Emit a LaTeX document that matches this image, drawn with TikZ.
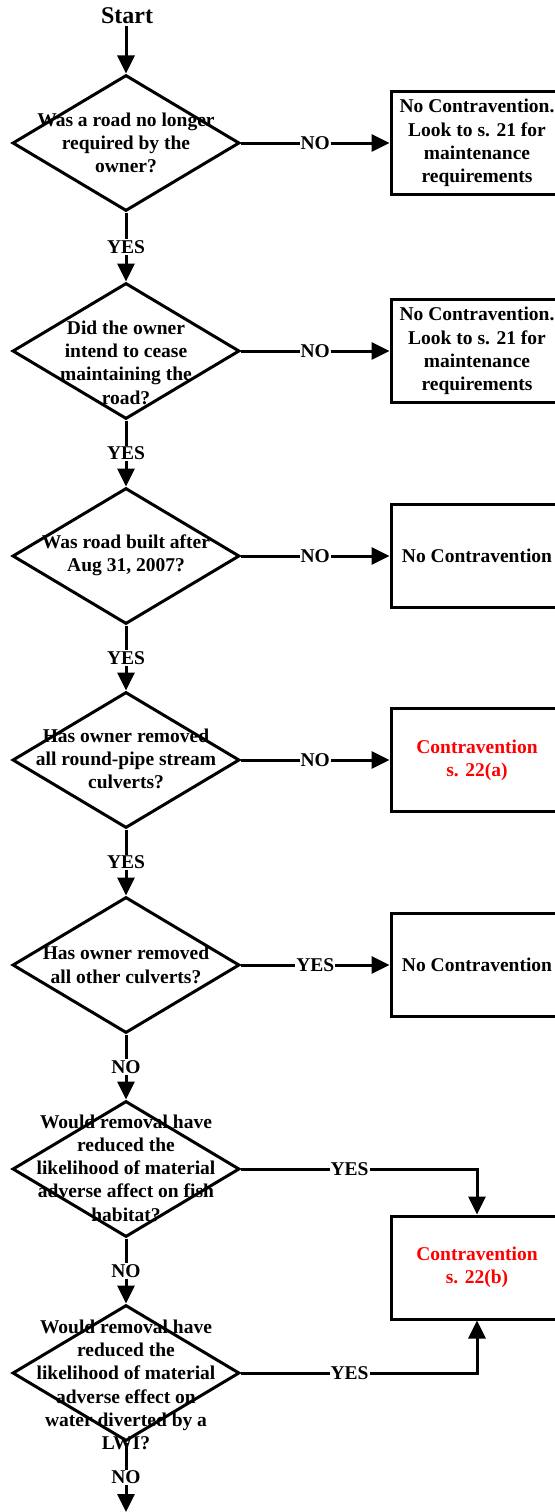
\documentclass[tikz,border=0pt]{standalone}
\usepackage{fontspec}
\setmainfont{Liberation Serif}
\usetikzlibrary{shapes.geometric,arrows.meta}

\tikzset{
  lw/.style={line width=3pt},
  decision/.style={lw, draw, shape=diamond, minimum width=227pt, minimum height=136pt, inner sep=0pt},
  outcome/.style={lw, draw, rectangle, minimum width=172pt, minimum height=103pt, inner sep=0pt},
  qtext/.style={align=center, inner sep=0pt, font=\bfseries\fontsize{19.5}{23.3}\selectfont},
  lbl/.style={fill=white, inner sep=1pt, font=\bfseries\fontsize{19.5}{23.3}\selectfont},
  arr/.style={lw, -{Triangle[length=18pt,width=17pt]}},
}

\begin{document}
\begin{tikzpicture}[x=1pt,y=-1pt]
\useasboundingbox (0,0) rectangle (554,1512);

% start label
\node[font=\bfseries\fontsize{24}{28}\selectfont, inner sep=2pt] (start) at (127,16) {Start};

% decision diamonds
\node[decision] (d1) at (126,143) {};
\node[decision] (d2) at (126,351) {};
\node[decision] (d3) at (126,556) {};
\node[decision] (d4) at (126,760) {};
\node[decision] (d5) at (126,965) {};
\node[decision] (d6) at (126,1169) {};
\node[decision] (d7) at (126,1373) {};

% question texts
\node[qtext] (q1) at (126,143) {Was a road no longer\\required by the\\owner?};
\node[qtext] (q2) at (126,362.5) {Did the owner\\intend to cease\\maintaining the\\road?};
\node[qtext] (q3) at (126,555) {Was road built after\\Aug 31, 2007?};
\node[qtext] (q4) at (126,759) {Has owner removed\\all round-pipe stream\\culverts?};
\node[qtext] (q5) at (126,965) {Has owner removed\\all other culverts?};
\node[qtext] (q6) at (126,1168) {Would removal have\\reduced the\\likelihood of material\\adverse affect on fish\\habitat?};
\node[qtext] (q7) at (126,1385) {Would removal have\\reduced the\\likelihood of material\\adverse effect on\\water diverted by a\\LWI?};

% outcome boxes
\node[outcome] (b1) at (477,143) {};
\node[outcome] (b2) at (477,351) {};
\node[outcome] (b3) at (477,556) {};
\node[outcome] (b4) at (477,760) {};
\node[outcome] (b5) at (477,965) {};
\node[outcome] (b6) at (477,1267.5) {};

\node[qtext] (r1) at (477,143) {No Contravention.\\Look to s. 21 for\\maintenance\\requirements};
\node[qtext] (r2) at (477,351) {No Contravention.\\Look to s. 21 for\\maintenance\\requirements};
\node[qtext] (r3) at (477,556) {No Contravention};
\node[qtext, text=red] (r4) at (477,760) {Contravention\\s. 22(a)};
\node[qtext] (r5) at (477,965) {No Contravention};
\node[qtext, text=red] (r6) at (477,1267.5) {Contravention\\s. 22(b)};

\coordinate (end) at (126,1512);

% main column
\draw[arr] (start.south -| d1.north) -- (d1.north);
\draw[arr] (d1.south) -- node[lbl] {YES} (d2.north);
\draw[arr] (d2.south) -- node[lbl] {YES} (d3.north);
\draw[arr] (d3.south) -- node[lbl] {YES} (d4.north);
\draw[arr] (d4.south) -- node[lbl] {YES} (d5.north);
\draw[arr] (d5.south) -- node[lbl] {NO} (d6.north);
\draw[arr] (d6.south) -- node[lbl] {NO} (d7.north);
\draw[arr] (d7.south) -- node[lbl] {NO} (end);

% branches to outcomes
\draw[arr] (d1.east) -- node[lbl] {NO} (b1.west);
\draw[arr] (d2.east) -- node[lbl] {NO} (b2.west);
\draw[arr] (d3.east) -- node[lbl] {NO} (b3.west);
\draw[arr] (d4.east) -- node[lbl] {NO} (b4.west);
\draw[arr] (d5.east) -- node[lbl] {YES} (b5.west);
\draw[arr] (d6.east) -| node[lbl, pos=0.23] {YES} (b6.north);
\draw[arr] (d7.east) -| node[lbl, pos=0.23] {YES} (b6.south);
\end{tikzpicture}
\end{document}
